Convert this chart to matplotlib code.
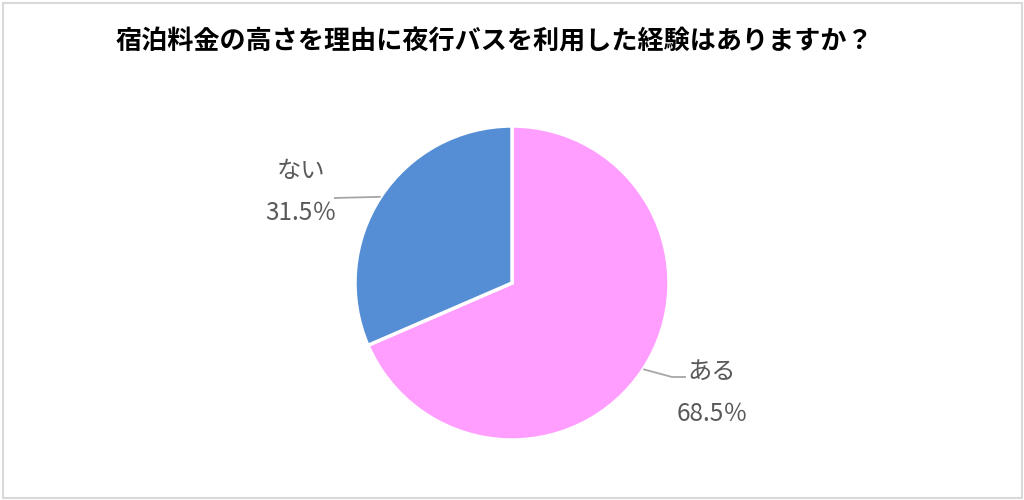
import matplotlib.pyplot as plt
import numpy as np
from matplotlib.patches import Rectangle

plt.rcParams['font.family'] = ['Noto Sans CJK JP', 'DejaVu Sans']

TITLE = "宿泊料金の高さを理由に夜行バスを利用した経験はありますか？"
labels = ["ある", "ない"]
values = [68.5, 31.5]
colors = ["#FF9EFF", "#558ED5"]

W, H = 1024, 500
CX, CY, R = 512, H - 283, 157

fig = plt.figure(figsize=(W / 100, H / 100), dpi=100)
ax = fig.add_axes([0, 0, 1, 1])
ax.set_xlim(0, W)
ax.set_ylim(0, H)
ax.set_aspect("equal")
ax.axis("off")

# outer frame
ax.add_patch(Rectangle((2.5, 2.5), W - 5, H - 5, fill=False, ec="#D9D9D9", lw=1.5))

wedges, _ = ax.pie(values, colors=colors, startangle=90, counterclock=False,
                   center=(CX, CY), radius=R,
                   wedgeprops=dict(edgecolor="white", linewidth=2.5))
ax.set_xlim(0, W)
ax.set_ylim(0, H)

# label positions (pixel coords from top) and leader-line bends
label_pos = {"ある": (712, 393), "ない": (301, 192)}
line_ends = {"ある": [(672, 377), (686, 377)], "ない": [(334, 198)]}

for w, lab, val in zip(wedges, labels, values):
    mid = np.deg2rad((w.theta1 + w.theta2) / 2)
    ex, ey = CX + R * np.cos(mid), CY + R * np.sin(mid)
    pts = [(ex, ey)] + [(x, H - y) for x, y in line_ends[lab]]
    ax.plot([p[0] for p in pts], [p[1] for p in pts], color="#A6A6A6", lw=1.3,
            solid_capstyle="butt")
    tx, ty = label_pos[lab]
    ax.text(tx, H - ty, f"{lab}\n{val:.1f}％", ha="center", va="center",
            fontsize=17.5, color="#595959", linespacing=1.8)

ax.text(494, H - 42, TITLE, ha="center", va="center", fontsize=18.8,
        fontweight="bold", color="black")

fig.savefig("out.png", dpi=100)
